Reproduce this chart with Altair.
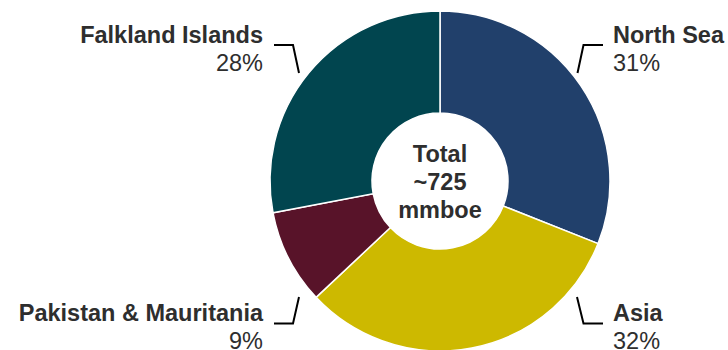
import altair as alt
import pandas as pd

# ---- data ----
regions = ["North Sea", "Asia", "Pakistan & Mauritania", "Falkland Islands"]
shares = [31, 32, 9, 28]
colors = ["#21406B", "#CDB900", "#581329", "#01454F"]
center_lines = ["Total", "~725", "mmboe"]

# ---- layout (label anchor positions, leader-line paths) ----
label_side = ["right", "right", "left", "left"]
label_x = [613, 613, 263, 263]
label_y = [43, 321, 321, 43]
leader_paths = [
    [(577.5, 73), (583.5, 45), (603, 45)],
    [(577, 297), (583.5, 323.5), (603, 323.5)],
    [(299, 297), (293, 323.5), (274, 323.5)],
    [(299, 73), (293, 45), (274, 45)],
]
CX, CY = 440, 181
FONT = "Liberation Sans"
TXT = "#2E2E2E"
FS = 23.5

df = pd.DataFrame({
    "region": regions,
    "share": shares,
    "order": list(range(len(regions))),
    "pct": [f"{s}%" for s in shares],
    "side": label_side,
    "lx": label_x,
    "ly": label_y,
    "ly2": [y + 28 for y in label_y],
})

lines_rows = []
for r, path in zip(regions, leader_paths):
    for i, (px, py) in enumerate(path):
        lines_rows.append({"region": r, "seq": i, "px": px, "py": py})
lines_df = pd.DataFrame(lines_rows)

center_df = pd.DataFrame({
    "t": center_lines,
    "cx": [CX] * len(center_lines),
    "cy": [CY - 19 + 28 * i for i in range(len(center_lines))],
})

donut = alt.Chart(df).mark_arc(
    outerRadius=170, innerRadius=68, stroke="white", strokeWidth=1.5
).encode(
    theta=alt.Theta("share:Q", stack=True),
    color=alt.Color("region:N", scale=alt.Scale(domain=regions, range=colors), legend=None),
    order=alt.Order("order:Q"),
    x=alt.value(CX),
    y=alt.value(CY),
)

X = lambda f: alt.X(f, scale=None, axis=None)
Y = lambda f: alt.Y(f, scale=None, axis=None)

layers = [donut]
for side, align in [("right", "left"), ("left", "right")]:
    base = alt.Chart(df).transform_filter(alt.datum.side == side)
    layers.append(base.mark_text(align=align, baseline="alphabetic", font=FONT,
                                 fontSize=FS, fontWeight="bold", color=TXT).encode(
        x=X("lx:Q"), y=Y("ly:Q"), text="region:N"))
    layers.append(base.mark_text(align=align, baseline="alphabetic", font=FONT,
                                 fontSize=FS, color=TXT).encode(
        x=X("lx:Q"), y=Y("ly2:Q"), text="pct:N"))

leaders = alt.Chart(lines_df).mark_line(color="black", strokeWidth=2).encode(
    x=X("px:Q"), y=Y("py:Q"), detail="region:N", order="seq:Q")
layers.append(leaders)

center = alt.Chart(center_df).mark_text(align="center", baseline="alphabetic", font=FONT,
                                         fontSize=FS, fontWeight="bold", color=TXT).encode(
    x=X("cx:Q"), y=Y("cy:Q"), text="t:N")
layers.append(center)

chart = alt.layer(*layers).properties(
    width=728, height=350, padding=0, autosize=alt.AutoSizeParams(type="none")
).configure_view(stroke=None)

chart.save("out.html", embed_options={"renderer": "svg", "actions": False})
